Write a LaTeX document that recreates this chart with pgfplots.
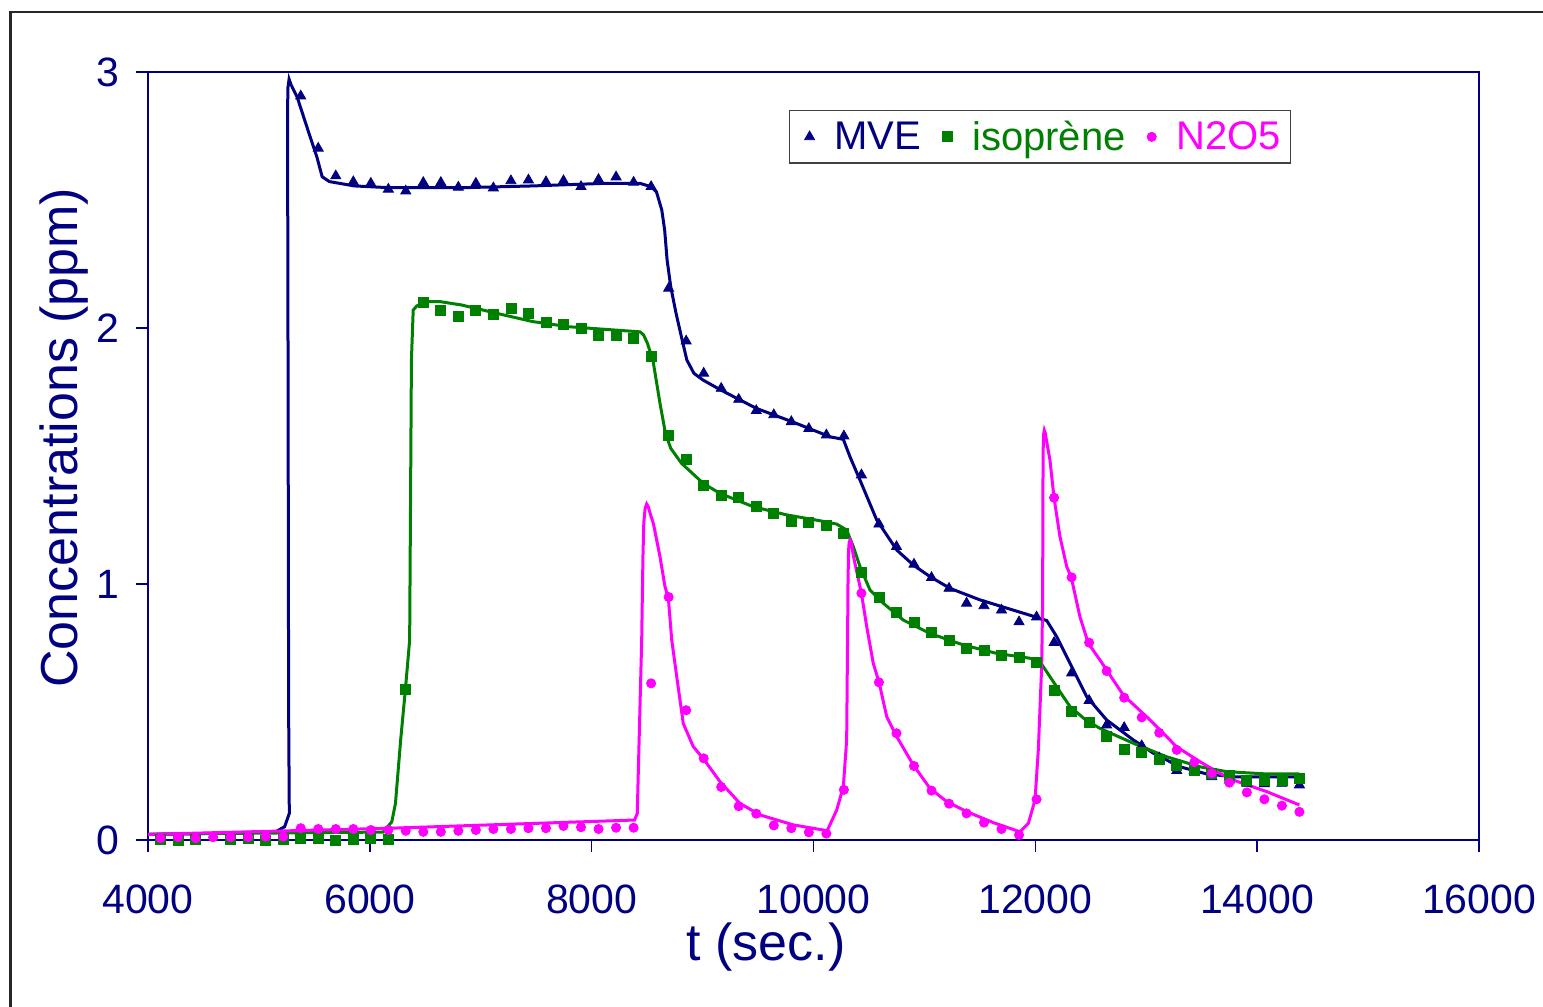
\documentclass[border=0pt]{standalone}
\usepackage{pgfplots}
\pgfplotsset{compat=1.18}
\usepackage{fontspec}
\setmainfont{Liberation Sans}
\definecolor{navyc}{RGB}{0,0,128}
\definecolor{greenc}{RGB}{0,128,0}
\definecolor{magc}{RGB}{255,0,255}

\pgfplotstableread{
x y
5377 2.906
5535 2.702
5693 2.594
5851 2.571
6009 2.565
6167 2.542
6324 2.535
6482 2.568
6640 2.568
6798 2.550
6956 2.565
7114 2.547
7272 2.575
7430 2.578
7588 2.571
7746 2.575
7904 2.552
8062 2.580
8220 2.590
8378 2.569
8536 2.552
8694 2.155
8852 1.949
9010 1.823
9168 1.764
9326 1.721
9484 1.677
9642 1.661
9800 1.634
9958 1.607
10116 1.582
10274 1.578
10432 1.426
10590 1.234
10748 1.146
10906 1.077
11064 1.025
11222 0.983
11380 0.925
11537 0.915
11695 0.898
11853 0.852
12011 0.871
12169 0.771
12327 0.652
12485 0.545
12643 0.449
12801 0.439
12959 0.368
13117 0.320
13275 0.271
13433 0.271
13591 0.247
13749 0.234
13907 0.221
14065 0.219
14223 0.221
14381 0.215
}\mvepts

\pgfplotstableread{
x y
4113 0.003
4271 0.000
4429 0.003
4587 -0.004
4745 0.003
4903 0.005
5061 0.000
5219 0.004
5377 0.008
5535 0.008
5693 0.000
5851 0.003
6009 0.008
6167 0.004
6324 0.590
6482 2.100
6640 2.068
6798 2.047
6956 2.070
7114 2.053
7272 2.077
7430 2.057
7588 2.022
7746 2.016
7904 1.999
8062 1.971
8220 1.971
8378 1.960
8536 1.888
8694 1.579
8852 1.487
9010 1.384
9168 1.348
9326 1.337
9484 1.302
9642 1.276
9800 1.243
9958 1.240
10116 1.230
10274 1.198
10432 1.046
10590 0.946
10748 0.888
10906 0.849
11064 0.810
11222 0.779
11380 0.749
11537 0.742
11695 0.723
11853 0.712
12011 0.693
12169 0.586
12327 0.504
12485 0.458
12643 0.404
12801 0.354
12959 0.341
13117 0.315
13275 0.293
13433 0.273
13591 0.262
13749 0.254
13907 0.234
14065 0.232
14223 0.232
14381 0.241
}\isopts

\pgfplotstableread{
x y
4113 0.007
4271 0.011
4429 0.007
4587 0.011
4745 0.011
4903 0.011
5061 0.013
5219 0.013
5377 0.046
5535 0.043
5693 0.043
5851 0.043
6009 0.039
6167 0.039
6324 0.036
6482 0.032
6640 0.032
6798 0.036
6956 0.039
7114 0.043
7272 0.043
7430 0.046
7588 0.046
7746 0.055
7904 0.050
8062 0.043
8220 0.048
8378 0.048
8536 0.612
8694 0.949
8852 0.507
9010 0.319
9168 0.207
9326 0.132
9484 0.103
9642 0.057
9800 0.046
9958 0.030
10116 0.025
10274 0.196
10432 0.964
10590 0.616
10748 0.417
10906 0.289
11064 0.193
11222 0.142
11380 0.104
11537 0.068
11695 0.043
11853 0.020
12011 0.159
12169 1.337
12327 1.026
12485 0.771
12643 0.660
12801 0.556
12959 0.479
13117 0.419
13275 0.352
13433 0.304
13591 0.261
13749 0.224
13907 0.186
14065 0.159
14223 0.134
14381 0.110
}\nopts

\pgfplotstableread{
x y
4000 0.022
4469 0.025
5151 0.032
5232 0.052
5274 0.104
5268 0.5
5262 2.0
5258 2.85
5262 2.94
5272 2.972
5290 2.95
5344 2.903
5442 2.773
5522 2.669
5570 2.591
5635 2.572
5860 2.555
6182 2.548
6826 2.548
7470 2.555
8114 2.565
8436 2.565
8535 2.552
8584 2.532
8632 2.461
8658 2.383
8680 2.266
8713 2.161
8761 2.057
8809 1.966
8858 1.875
8922 1.823
9003 1.797
9163 1.758
9485 1.686
9807 1.634
10149 1.575
10269 1.565
10329 1.497
10419 1.406
10570 1.250
10750 1.133
10900 1.074
11050 1.029
11231 0.983
11501 0.938
11801 0.898
12012 0.870
12103 0.857
12193 0.794
12313 0.690
12463 0.560
12643 0.469
12883 0.391
13064 0.339
13304 0.286
13545 0.258
13785 0.247
14380 0.247
}\mveline

\pgfplotstableread{
x y
4000 0.023
6118 0.031
6198 0.071
6231 0.143
6278 0.391
6321 0.590
6359 0.781
6375 1.875
6391 2.070
6423 2.086
6504 2.103
6633 2.103
6826 2.090
7147 2.057
7470 2.025
7792 2.005
8114 1.995
8436 1.985
8468 1.973
8503 1.940
8552 1.875
8616 1.706
8665 1.589
8713 1.530
8809 1.472
9006 1.393
9157 1.354
9457 1.302
9758 1.270
10059 1.247
10209 1.234
10299 1.211
10359 1.146
10419 1.068
10509 0.977
10629 0.925
10810 0.859
11050 0.807
11350 0.762
11652 0.729
11952 0.710
12042 0.696
12132 0.638
12252 0.560
12313 0.521
12454 0.469
12583 0.436
12883 0.378
13184 0.325
13484 0.286
13725 0.267
14086 0.258
14380 0.258
}\isoline

\pgfplotstableread{
x y
4000 0.022
6182 0.046
8387 0.078
8411 0.104
8451 0.781
8462 1.100
8470 1.240
8482 1.295
8496 1.3125
8510 1.302
8530 1.272
8556 1.237
8616 1.107
8661 0.990
8691 0.946
8722 0.781
8767 0.638
8826 0.455
8916 0.365
9006 0.318
9157 0.228
9337 0.143
9517 0.098
9818 0.059
10088 0.039
10119 0.032
10209 0.117
10269 0.208
10299 0.391
10307 0.781
10311 1.000
10316 1.130
10322 1.165
10330 1.172
10342 1.160
10359 1.110
10432 0.964
10480 0.833
10539 0.690
10591 0.616
10660 0.482
10750 0.404
10900 0.293
11050 0.202
11201 0.150
11381 0.111
11621 0.068
11862 0.032
11937 0.065
11997 0.156
12027 0.352
12057 0.677
12066 0.938
12068 1.350
12071 1.530
12075 1.585
12081 1.600
12090 1.588
12105 1.550
12132 1.484
12168 1.339
12222 1.185
12283 1.068
12324 1.026
12402 0.872
12478 0.768
12583 0.703
12793 0.566
13034 0.469
13274 0.364
13484 0.306
13635 0.267
13785 0.234
14086 0.189
14380 0.137
}\noline

\begin{document}
\begin{tikzpicture}
\path[use as bounding box] (0,0) rectangle (771.5pt,-503.5pt);
\draw[line width=1.25pt, black!85] (5.25pt,-503.5pt) -- (5.25pt,-6pt) -- (771.5pt,-6pt);
\begin{axis}[
  at={(74pt,-420pt)}, anchor=south west,
  scale only axis, width=665.5pt, height=384pt,
  xmin=4000, xmax=16000, ymin=0, ymax=3,
  xtick={4000,6000,...,16000}, ytick={0,1,2,3},
  minor tick num=0,
  tick pos=left,
  axis line style={navyc, line width=0.9pt},
  every tick/.style={navyc, line width=0.8pt},
  tick align=outside,
  major tick length=6pt,
  scaled ticks=false,
  /pgf/number format/.cd, 1000 sep={}, assume math mode=true, /pgfplots/.cd,
  ticklabel style={font=\fontsize{20.5}{24}\selectfont, text=navyc},
  xticklabel style={yshift=-13pt},
  yticklabel style={xshift=-5pt},
  xlabel={t (sec.)}, ylabel={Concentrations (ppm)},
  label style={font=\fontsize{26}{30}\selectfont, text=navyc},
  xlabel style={at={(axis description cs:0.4643,-0.139)}, anchor=center},
  ylabel style={at={(axis description cs:-0.0631,0.524)}, anchor=center},
  legend columns=3,
  legend style={at={(axis description cs:0.4816,0.9505)}, anchor=north west,
    draw=black!75, line width=0.6pt, fill=white,
    inner xsep=2.5pt, inner ysep=3pt,
    font=\fontsize{20}{24}\selectfont,
    nodes={inner xsep=2pt},
    /tikz/every even column/.append style={column sep=3.5pt}},
  mylegimg/.style={legend image code/.code={\path[draw=none, fill=none] (0pt,0pt) -- (18pt,0pt); \path[##1, draw=none] plot[only marks] coordinates {(7.5pt,0pt)};}},
]
\addplot[navyc, line width=1.5pt, mark=none, forget plot] table {\mveline};
\addplot[greenc, line width=1.5pt, mark=none, forget plot] table {\isoline};
\addplot[magc, line width=1.5pt, mark=none, forget plot] table {\noline};
\addplot[only marks, mylegimg, mark=triangle*, mark size=2.9pt, navyc, mark options={fill=navyc, draw=navyc, line width=0.4pt}] table {\mvepts};
\addplot[only marks, mylegimg, mark=square*, mark size=2.5pt, greenc, mark options={fill=greenc, draw=greenc, line width=0.4pt}] table {\isopts};
\addplot[only marks, mylegimg, mark=*, mark size=2.3pt, magc, mark options={fill=magc, draw=magc, line width=0.4pt}] table {\nopts};
\legend{\textcolor{navyc}{MVE}, \textcolor{greenc}{isoprène}, \textcolor{magc}{N2O5}}
\end{axis}
\end{tikzpicture}
\end{document}
